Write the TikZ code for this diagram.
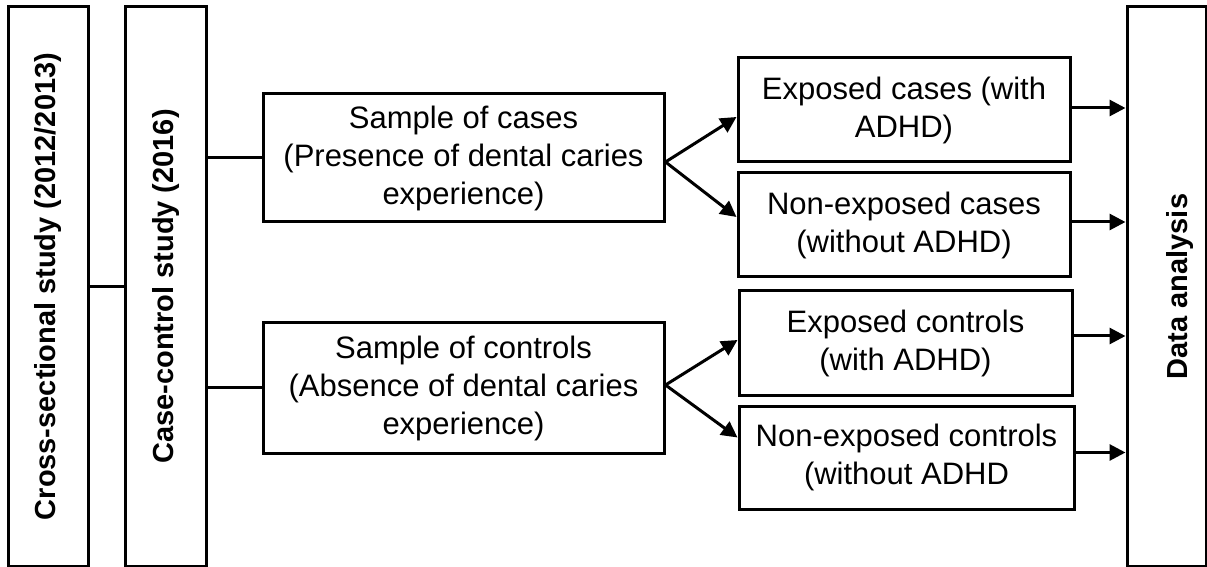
\documentclass[tikz,border=0pt]{standalone}
\usepackage{fontspec}
\setmainfont{Liberation Sans}
\usetikzlibrary{arrows.meta,calc}
\tikzset{
  box/.style={draw, line width=1.5pt, align=center, inner sep=0pt,
    font=\fontsize{15.5}{19}\selectfont},
  tall/.style={box, minimum height=279.5pt},
  vtext/.style={rotate=90, font=\fontsize{14.5}{17}\selectfont\bfseries},
  link/.style={line width=1.5pt},
  arr/.style={line width=1.5pt, -{Triangle[length=8pt,width=8pt]}}
}
\begin{document}
\begin{tikzpicture}[x=0.5pt,y=-0.5pt]
\useasboundingbox (0,0) rectangle (1207,567);
% tall boxes
\node[tall, minimum width=40pt] (b1) at (48,286.5) {};
\node[vtext] (t1) at (48,286.5) {Cross-sectional study (2012/2013)};
\node[tall, minimum width=40.5pt] (b2) at (165.5,286.5) {};
\node[vtext] (t2) at (166,286.5) {Case-control study (2016)};
\node[tall, minimum width=39.5pt] (da) at (1166.5,286.5) {};
\node[vtext] (t3) at (1180,286.5) {Data analysis};
% samples
\node[box, minimum width=200.5pt, minimum height=64pt] (cases) at (463.5,158)
  {Sample of cases\\(Presence of dental caries\\experience)};
\node[box, minimum width=200.5pt, minimum height=65pt] (controls) at (463.5,388)
  {Sample of controls\\(Absence of dental caries\\experience)};
% groups
\node[box, minimum width=166pt, minimum height=52pt] (ec) at (904,110)
  {Exposed cases (with\\ADHD)};
\node[box, minimum width=166pt, minimum height=52pt] (nc) at (904,225)
  {Non-exposed cases\\(without ADHD)};
\node[box, minimum width=166.5pt, minimum height=52pt] (ek) at (905.5,343)
  {Exposed controls\\(with ADHD)};
\node[box, minimum width=167.5pt, minimum height=51.5pt] (nk) at (906.5,457.5)
  {Non-exposed controls\\(without ADHD};
% connectors
\draw[link] (b1.east) -- (b2.west);
\draw[link] (b2.east |- cases.west) -- (cases.west);
\draw[link] (b2.east |- controls.west) -- (controls.west);
\coordinate (f1) at ([yshift=-2pt]cases.east);
\coordinate (f2) at ([yshift=1.5pt]controls.east);
\draw[arr] (f1) -- ([yshift=-3.5pt]ec.west);
\draw[arr] (f1) -- ([yshift=4pt]nc.west);
\draw[arr] (f2) -- ([yshift=1.5pt]ek.west);
\draw[arr] (f2) -- ([yshift=10pt]nk.west);
\coordinate (o1) at ([yshift=1pt]ec.east);
\coordinate (o2) at ([yshift=1.5pt]nc.east);
\coordinate (o3) at ([yshift=3.5pt]ek.east);
\coordinate (o4) at ([yshift=2.5pt]nk.east);
\draw[arr] (o1) -- (da.west |- o1);
\draw[arr] (o2) -- (da.west |- o2);
\draw[arr] (o3) -- (da.west |- o3);
\draw[arr] (o4) -- (da.west |- o4);
\end{tikzpicture}
\end{document}
